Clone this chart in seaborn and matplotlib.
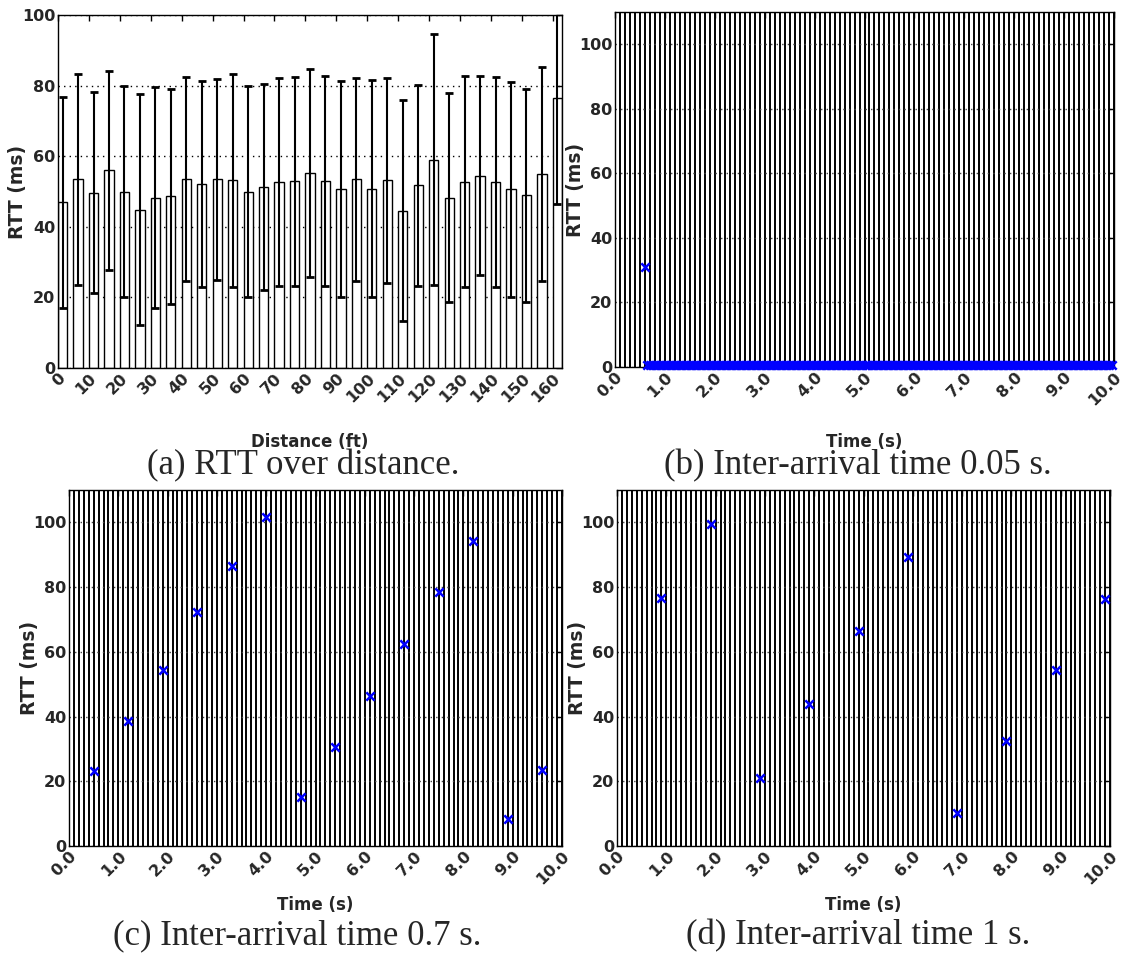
import numpy as np
import matplotlib
matplotlib.use("Agg")
import matplotlib.pyplot as plt
from matplotlib.ticker import MultipleLocator
import seaborn as sns

# ---------------- data ----------------
# (a) RTT over distance
distance_ft = [0, 5, 10, 15, 20, 25, 30, 35, 40, 45, 50, 55, 60, 65, 70, 75, 80,
               85, 90, 95, 100, 105, 110, 115, 120, 125, 130, 135, 140, 145, 150, 155, 160]
rtt_mean = [46.9, 53.4, 49.7, 56.0, 50.0, 44.9, 48.3, 48.6, 53.5, 52.1, 53.4, 53.2, 50.0,
            51.2, 52.6, 52.9, 55.3, 53.0, 50.7, 53.4, 50.8, 53.2, 44.6, 51.7, 59.0, 48.3,
            52.8, 54.5, 52.7, 50.6, 48.9, 55.0, 76.4]
rtt_err = [30.0, 30.0, 28.5, 28.1, 29.8, 32.6, 31.2, 30.5, 28.8, 29.2, 28.4, 30.2, 29.8,
           29.2, 29.5, 29.6, 29.5, 29.7, 30.6, 28.8, 30.8, 29.0, 31.2, 28.6, 35.6, 29.5,
           29.9, 28.2, 29.7, 30.5, 30.2, 30.3, 30.0]
distance_ticks = [0, 10, 20, 30, 40, 50, 60, 70, 80, 90, 100, 110, 120, 130, 140, 150, 160]

# (b) inter-arrival 0.05 s: first packet ~31 ms, all following ~0.6 ms
time_b = np.round(np.arange(0.6, 10.0, 0.05), 2)
rtt_b = [31.0] + [0.6] * (len(time_b) - 1)

# (c) inter-arrival 0.7 s
time_c = [0.5, 1.2, 1.9, 2.6, 3.3, 4.0, 4.7, 5.4, 6.1, 6.8, 7.5, 8.2, 8.9, 9.6]
rtt_c = [23.3, 38.5, 54.3, 72.2, 86.4, 101.6, 15.1, 30.5, 46.5, 62.3, 78.5, 94.3, 8.2, 23.4]

# (d) inter-arrival 1 s
time_d = [0.9, 1.9, 2.9, 3.9, 4.9, 5.9, 6.9, 7.9, 8.9, 9.9]
rtt_d = [76.5, 99.5, 21.0, 43.8, 66.5, 89.3, 10.2, 32.3, 54.3, 76.3]

time_ticks = [0, 1, 2, 3, 4, 5, 6, 7, 8, 9, 10]
rtt_ticks = [0, 20, 40, 60, 80, 100]
captions = ["(a) RTT over distance.", "(b) Inter-arrival time 0.05 s.",
            "(c) Inter-arrival time 0.7 s.", "(d) Inter-arrival time 1 s."]

# ---------------- style ----------------
sns.set_theme(style="white")
plt.rcParams["font.family"] = ["DejaVu Sans"]
plt.rcParams.update({
    "axes.edgecolor": "black",
    "axes.linewidth": 1.0,
    "xtick.direction": "in",
    "ytick.direction": "in",
    "xtick.top": True,
    "ytick.right": True,
    "xtick.major.size": 4,
    "ytick.major.size": 4,
})

W, H = 1134, 959
fig = plt.figure(figsize=(W / 100, H / 100), dpi=100)


def px_axes(left, top, right, bottom):
    return fig.add_axes([left / W, 1 - bottom / H, (right - left) / W, (bottom - top) / H])


tick_fs = 11.5
ylabel_fs = 13.5
xlabel_fs = 12


def style_common(ax, w_px, h_px, xlabel, xlabel_drop_px):
    for lab in ax.get_yticklabels():
        lab.set_fontweight("bold")
        lab.set_fontsize(tick_fs)
    for lab in ax.get_xticklabels():
        lab.set_fontweight("bold")
        lab.set_fontsize(tick_fs)
        lab.set_rotation(45)
        lab.set_ha("right")
        lab.set_va("top")
        lab.set_rotation_mode("anchor")
    ax.set_ylabel("RTT (ms)", fontsize=ylabel_fs, fontweight="bold", va="center")
    ax.yaxis.set_label_coords(-40 / w_px, 0.5)
    ax.set_xlabel(xlabel, fontsize=xlabel_fs, fontweight="bold", va="center")
    ax.xaxis.set_label_coords(0.5, -xlabel_drop_px / h_px)
    ax.tick_params(axis="both", which="major", pad=2, color="black", width=1)


# ---------------- (a) ----------------
ax = px_axes(58, 15, 562, 368)
bar_w = 3.0
ax.bar(distance_ft, rtt_mean, width=bar_w, align="edge", color="white",
       edgecolor="black", linewidth=1.0, zorder=2)
ax.errorbar(np.array(distance_ft) + bar_w / 2, rtt_mean, yerr=rtt_err, fmt="none",
            ecolor="black", elinewidth=1.5, capsize=3, capthick=2, zorder=3)
ax.set_xlim(0, 163)
ax.set_ylim(0, 100)
ax.set_xticks(distance_ticks)
ax.set_xticklabels([str(t) for t in distance_ticks])
ax.set_yticks(rtt_ticks)
ax.set_yticklabels([str(t) for t in rtt_ticks])
ax.yaxis.grid(True, linestyle=(0, (1, 3)), color="black", linewidth=1)
ax.set_axisbelow(True)
style_common(ax, 504, 353, "Distance (ft)", 74)

# ---------------- (b)-(d) ----------------
panels = [
    ((615, 12, 1114, 367), time_b, rtt_b),
    ((69, 490, 562, 846), time_c, rtt_c),
    ((617, 490, 1110, 846), time_d, rtt_d),
]
for (l, t, r, b), tt, rr in panels:
    ax = px_axes(l, t, r, b)
    ax.set_xlim(0, 10)
    ax.set_ylim(0, 110)
    ax.set_xticks(time_ticks)
    ax.set_xticklabels([f"{v:.1f}" for v in time_ticks])
    ax.set_yticks(rtt_ticks)
    ax.set_yticklabels([str(v) for v in rtt_ticks])
    ax.xaxis.set_minor_locator(MultipleLocator(0.1))
    ax.tick_params(axis="x", which="minor", length=0)
    ax.xaxis.grid(True, which="both", linestyle="-", color="black", linewidth=1.4)
    ax.yaxis.grid(True, which="major", linestyle=(0, (1, 3)), color="#444444", linewidth=1)
    ax.set_axisbelow(True)
    sns.scatterplot(x=tt, y=rr, ax=ax, marker="x", color="blue", s=36,
                    linewidth=1.8, zorder=5, clip_on=False)
    style_common(ax, r - l, b - t, "Time (s)", (442 - 367) if t < 100 else (905 - 846))

# ---------------- captions ----------------
cap_kw = dict(fontsize=25, family=["Liberation Serif", "DejaVu Serif"], ha="center", va="center")
fig.text(303 / W, 1 - 466 / H, captions[0], **cap_kw)
fig.text(858 / W, 1 - 466 / H, captions[1], **cap_kw)
fig.text(297 / W, 1 - 936 / H, captions[2], **cap_kw)
fig.text(858 / W, 1 - 936 / H, captions[3], **cap_kw)

fig.savefig("out.png", dpi=100)
